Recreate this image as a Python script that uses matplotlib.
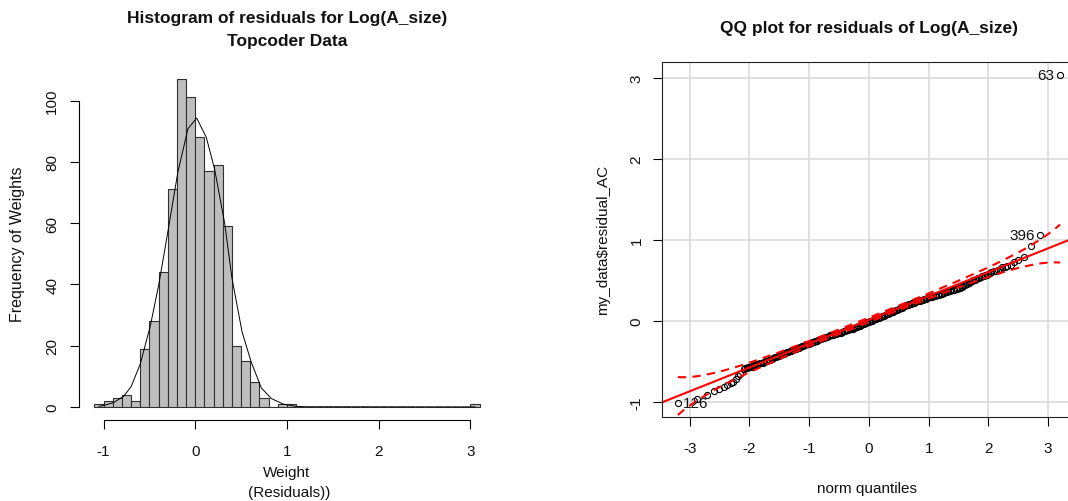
import matplotlib
matplotlib.use("Agg")
import matplotlib.pyplot as plt
import numpy as np

plt.rcParams["font.family"] = ["Liberation Sans", "DejaVu Sans"]
plt.rcParams["axes.unicode_minus"] = False

# residual histogram, 0.1 wide bins starting at -1.1
bin_start = -1.1
bin_width = 0.1
hist_counts = [1, 2, 3, 4, 2, 19, 28, 44, 71, 107, 101, 88, 77, 79, 59, 20, 15, 8, 3, 0,
               1, 1, 0, 0, 0, 0, 0, 0, 0, 0, 0, 0, 0, 0, 0, 0, 0, 0, 0, 0, 0, 1]

# fitted normal curve laid over the histogram
curve_x = [-1.05, -1.01, -0.89, -0.78, -0.70, -0.60, -0.49, -0.40, -0.30, -0.19, -0.08,
           0.015, 0.12, 0.21, 0.32, 0.40, 0.51, 0.61, 0.72, 0.83, 0.96, 1.09, 1.20, 3.05]
curve_y = [0.2, 0.4, 1.4, 3.5, 6.6, 14.0, 26.5, 39.6, 57.0, 76.6, 90.8,
           94.3, 88.0, 77.7, 60.0, 42.0, 24.5, 14.6, 6.2, 2.7, 0.9, 0.2, 0.05, 0.0]

# QQ points: normal quantile vs sorted residual
qq_tail_lo_x = [-3.202, -2.871, -2.707, -2.591, -2.503, -2.433, -2.371, -2.318, -2.270, -2.228, -2.189, -2.153]
qq_tail_lo_y = [-1.01, -0.96, -0.92, -0.87, -0.84, -0.81, -0.79, -0.77, -0.75, -0.72, -0.68, -0.65]

qq_mid_x = [-2.100, -2.075, -2.050, -2.025, -2.000, -1.975, -1.950, -1.925, -1.900, -1.875,
            -1.850, -1.825, -1.800, -1.775, -1.750, -1.725, -1.700, -1.675, -1.650, -1.625,
            -1.600, -1.575, -1.550, -1.525, -1.500, -1.475, -1.450, -1.425, -1.400, -1.375,
            -1.350, -1.325, -1.300, -1.275, -1.250, -1.225, -1.200, -1.175, -1.150, -1.125,
            -1.100, -1.075, -1.050, -1.025, -1.000, -0.975, -0.950, -0.925, -0.900, -0.875,
            -0.850, -0.825, -0.800, -0.775, -0.750, -0.725, -0.700, -0.675, -0.650, -0.625,
            -0.600, -0.575, -0.550, -0.525, -0.500, -0.475, -0.450, -0.425, -0.400, -0.375,
            -0.350, -0.325, -0.300, -0.275, -0.250, -0.225, -0.200, -0.175, -0.150, -0.125,
            -0.100, -0.075, -0.050, -0.025, 0.000, 0.025, 0.050, 0.075, 0.100, 0.125,
            0.150, 0.175, 0.200, 0.225, 0.250, 0.275, 0.300, 0.325, 0.350, 0.375,
            0.400, 0.425, 0.450, 0.475, 0.500, 0.525, 0.550, 0.575, 0.600, 0.625,
            0.650, 0.675, 0.700, 0.725, 0.750, 0.775, 0.800, 0.825, 0.850, 0.875,
            0.900, 0.925, 0.950, 0.975, 1.000, 1.025, 1.050, 1.075, 1.100, 1.125,
            1.150, 1.175, 1.200, 1.225, 1.250, 1.275, 1.300, 1.325, 1.350, 1.375,
            1.400, 1.425, 1.450, 1.475, 1.500, 1.525, 1.550, 1.575, 1.600, 1.625,
            1.650, 1.675, 1.700, 1.725, 1.750, 1.775, 1.800, 1.825, 1.850, 1.875,
            1.900, 1.925, 1.950, 1.975, 2.000, 2.025, 2.050]
qq_mid_y = [-0.590, -0.585, -0.580, -0.575, -0.570, -0.565, -0.560, -0.550, -0.540, -0.535,
            -0.530, -0.525, -0.520, -0.515, -0.510, -0.500, -0.490, -0.485, -0.480, -0.470,
            -0.460, -0.450, -0.440, -0.435, -0.430, -0.420, -0.410, -0.405, -0.400, -0.390,
            -0.380, -0.375, -0.370, -0.360, -0.350, -0.345, -0.340, -0.330, -0.320, -0.315,
            -0.310, -0.300, -0.290, -0.285, -0.280, -0.270, -0.260, -0.255, -0.250, -0.245,
            -0.240, -0.230, -0.220, -0.215, -0.210, -0.203, -0.195, -0.188, -0.180, -0.175,
            -0.170, -0.165, -0.160, -0.155, -0.150, -0.145, -0.140, -0.130, -0.120, -0.115,
            -0.110, -0.105, -0.100, -0.095, -0.090, -0.080, -0.070, -0.065, -0.060, -0.050,
            -0.040, -0.035, -0.030, -0.020, -0.010, -0.005, 0.000, 0.010, 0.020, 0.025,
            0.030, 0.040, 0.050, 0.055, 0.060, 0.070, 0.080, 0.090, 0.100, 0.105,
            0.110, 0.120, 0.130, 0.140, 0.150, 0.155, 0.160, 0.170, 0.180, 0.190,
            0.200, 0.205, 0.210, 0.215, 0.220, 0.230, 0.240, 0.245, 0.250, 0.255,
            0.260, 0.265, 0.270, 0.280, 0.290, 0.295, 0.300, 0.305, 0.310, 0.315,
            0.320, 0.325, 0.330, 0.335, 0.340, 0.350, 0.360, 0.365, 0.370, 0.375,
            0.380, 0.385, 0.390, 0.395, 0.400, 0.410, 0.420, 0.430, 0.440, 0.450,
            0.460, 0.470, 0.480, 0.490, 0.500, 0.510, 0.520, 0.525, 0.530, 0.540,
            0.550, 0.555, 0.560, 0.570, 0.580, 0.590, 0.600]

qq_tail_hi_x = [2.088, 2.119, 2.153, 2.189, 2.228, 2.270, 2.318, 2.371, 2.433, 2.503, 2.591, 2.707, 2.871, 3.202]
qq_tail_hi_y = [0.61, 0.62, 0.63, 0.645, 0.66, 0.67, 0.68, 0.69, 0.72, 0.75, 0.79, 0.92, 1.06, 3.03]

# labelled observations (row id, quantile, residual)
qq_ids = ["126", "396", "63"]
qq_id_x = [-3.202, 2.871, 3.202]
qq_id_y = [-1.01, 1.06, 3.03]

# reference line and 95% envelope
line_intercept = 0.013
line_slope = 0.294
env_x = [-3.2, -3.1, -3.0, -2.9, -2.75, -2.6, -2.5, -2.25, -2.0, -1.5, -1.0, -0.5, 0.0,
         0.5, 1.0, 1.5, 2.0, 2.25, 2.5, 2.6, 2.75, 2.9, 3.0, 3.1, 3.2]
env_hi = [-0.694, -0.696, -0.693, -0.686, -0.668, -0.644, -0.627, -0.575, -0.516, -0.387, -0.249, -0.106, 0.040,
          0.188, 0.339, 0.495, 0.660, 0.749, 0.843, 0.884, 0.950, 1.020, 1.071, 1.126, 1.188]
env_lo = [-1.162, -1.100, -1.045, -0.994, -0.924, -0.858, -0.817, -0.723, -0.634, -0.469, -0.313, -0.162, -0.014,
          0.132, 0.275, 0.413, 0.542, 0.601, 0.653, 0.670, 0.694, 0.712, 0.719, 0.722, 0.720]

W, H = 1068, 502
TXT = "#111111"


def box(l, t, r, b):
    return [l / W, 1 - b / H, (r - l) / W, (b - t) / H]


def ftext(x, y, s, **kw):
    fig.text(x / W, 1 - y / H, s, color=TXT, **kw)


fig = plt.figure(figsize=(W / 100, H / 100), dpi=100)

# ---- histogram ----
ax1 = fig.add_axes(box(79, 67, 495, 421))
edges = bin_start + bin_width * np.arange(len(hist_counts))
ax1.bar(edges, hist_counts, width=bin_width, align="edge",
        color="#bebebe", edgecolor="#303030", linewidth=0.8)
ax1.plot(curve_x, curve_y, color="black", lw=0.7)
ax1.set_xlim(-1.268, 3.268)
ax1.set_ylim(-4.28, 111.28)
for s in ("top", "right"):
    ax1.spines[s].set_visible(False)
ax1.spines["left"].set_bounds(0, 100)
ax1.spines["bottom"].set_bounds(-1, 3)
ax1.set_xticks([-1, 0, 1, 2, 3])
ax1.set_yticks([0, 20, 40, 60, 80, 100])
ax1.tick_params(axis="x", length=6.8, width=0.8, pad=10.5, labelsize=11, labelcolor=TXT)
ax1.tick_params(axis="y", length=6.8, width=0.8, pad=7.4, labelsize=11, labelcolor=TXT)
for lbl in ax1.get_yticklabels():
    lbl.set_rotation(90)
    lbl.set_va("center")

ftext(287, 23.5, "Histogram of residuals for Log(A_size)", ha="center", va="baseline",
      fontsize=12.5, fontweight="bold")
ftext(287, 46, "Topcoder Data", ha="center", va="baseline", fontsize=12.5, fontweight="bold")
ftext(287, 476.7, "Weight", ha="center", va="baseline", fontsize=11)
ftext(289, 497, "(Residuals))", ha="center", va="baseline", fontsize=11)
ftext(18, 244, "Frequency of Weights", ha="center", va="center", rotation=90, fontsize=11.5)

# ---- QQ plot ----
ax2 = fig.add_axes(box(662.3, 63.3, 1075.6, 418.3))
ax2.set_xlim(-3.46, 3.46)
ax2.set_ylim(-1.19, 3.19)
ax2.set_xticks([-3, -2, -1, 0, 1, 2, 3])
ax2.set_yticks([-1, 0, 1, 2, 3])
ax2.grid(True, color="#dcdcdc", lw=1.2)
ax2.set_axisbelow(True)

pt = dict(ls="none", marker="o", mfc="none", mec="black", ms=4.4, mew=0.8)
ax2.plot(qq_tail_lo_x, qq_tail_lo_y, **pt)
ax2.plot(qq_mid_x, qq_mid_y, **pt)
ax2.plot(qq_tail_hi_x, qq_tail_hi_y, **pt)

ax2.axline((0, line_intercept), slope=line_slope, color="red", lw=1.5)
ax2.plot(env_x, env_hi, color="red", lw=1.5, ls=(0, (4, 3)))
ax2.plot(env_x, env_lo, color="red", lw=1.5, ls=(0, (4, 3)))

for name, x, y in zip(qq_ids, qq_id_x, qq_id_y):
    right = x < 0
    ax2.annotate(name, (x, y), xytext=(4 if right else -4, 0), textcoords="offset points",
                 ha="left" if right else "right", va="center", fontsize=11, color=TXT)

for s in ax2.spines.values():
    s.set_color("#222222")
    s.set_linewidth(0.8)
ax2.tick_params(axis="x", length=6.3, width=0.8, pad=10.5, labelsize=11, labelcolor=TXT)
ax2.tick_params(axis="y", length=6.5, width=0.8, pad=6.9, labelsize=11, labelcolor=TXT)
for lbl in ax2.get_yticklabels():
    lbl.set_rotation(90)
    lbl.set_va("center")

ftext(869, 33, "QQ plot for residuals of Log(A_size)", ha="center", va="baseline",
      fontsize=12.5, fontweight="bold")
ftext(867, 493, "norm quantiles", ha="center", va="baseline", fontsize=11)
ftext(603, 240, r"my_data\$residual_AC", ha="center", va="center", rotation=90, fontsize=11)

fig.savefig("out.png", dpi=100)
